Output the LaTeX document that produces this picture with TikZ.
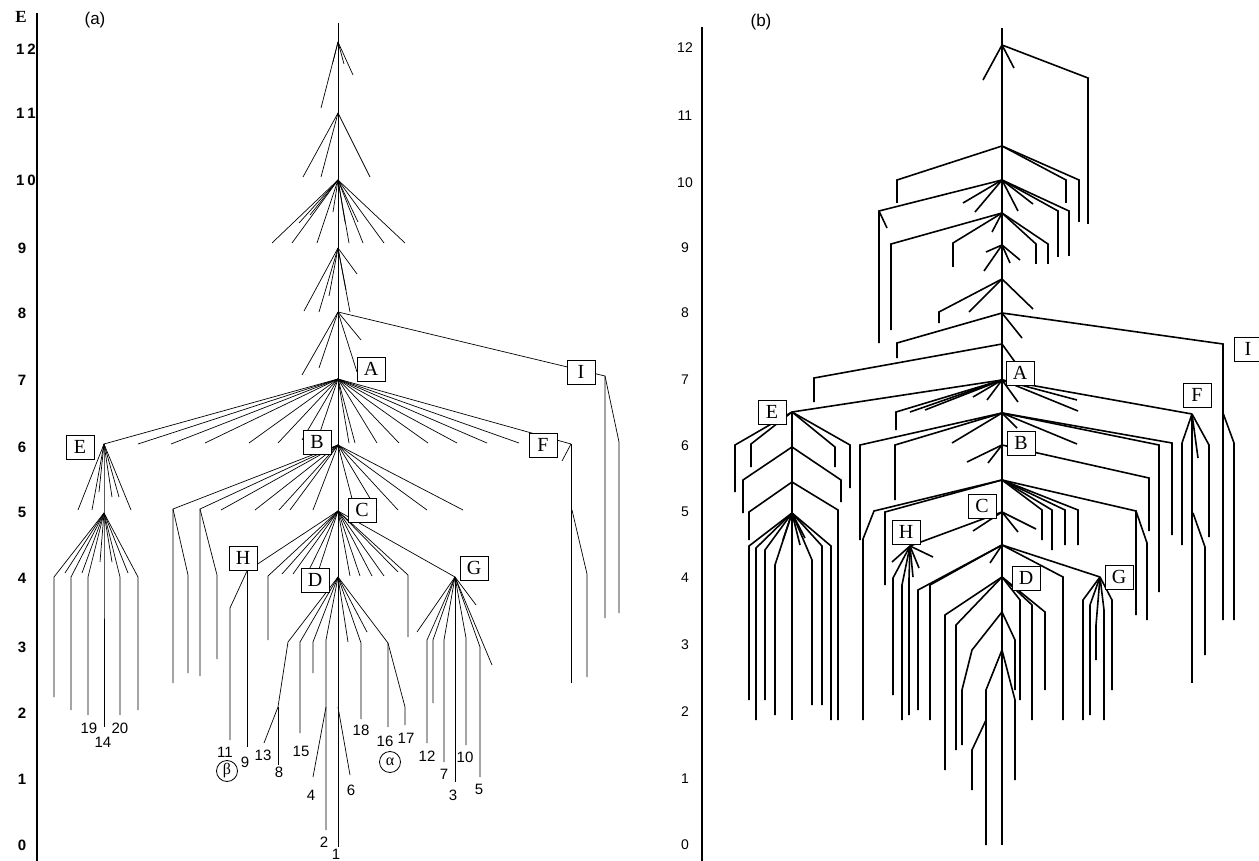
\documentclass[tikz,border=0pt]{standalone}
\usepackage{fontspec}
\setmainfont{Liberation Serif}
\newfontfamily\arial{Liberation Sans}
\begin{document}
\begin{tikzpicture}[x=1pt,y=-1pt,
  ta/.style={line width=0.7pt},
  tb/.style={line width=1.6pt},
  lbox/.style={draw, line width=1pt, fill=white, font=\fontsize{20}{20}\selectfont, minimum width=28pt, minimum height=24pt, inner sep=0pt},
  axa/.style={font=\arial\bfseries\fontsize{15}{15}\selectfont, inner sep=0pt},
  axb/.style={font=\arial\fontsize{14}{14}\selectfont, inner sep=0pt},
  leaf/.style={font=\arial\fontsize{15}{15}\selectfont, inner sep=0pt},
  circ/.style={draw, circle, line width=0.8pt, minimum size=21pt, inner sep=0pt, font=\fontsize{16}{16}\selectfont},
]
\useasboundingbox (0,0) rectangle (1259,861);

% ================= panel (a) =================
\coordinate (axaT) at (37,13);
\coordinate (axaB) at (37,861);
\draw[line width=1.3pt] (axaT) -- (axaB);
\node[font=\bfseries\fontsize{17}{17}\selectfont, inner sep=0pt] (Elab) at (21,17) {E};
\node[font=\arial\fontsize{17}{17}\selectfont, inner sep=0pt] (alab) at (95,20) {(a)};
\foreach \v/\yy in {0/845,1/779,2/713,3/647,4/578,5/512,6/447,7/380,8/313,9/248}
  \node[axa] (ya\v) at (22,\yy) {\v};
\node[axa] (ya10) at (26,180) {1\kern3pt 0};
\node[axa] (ya11) at (26,113) {1\kern3pt 1};
\node[axa] (ya12) at (26,49) {1\kern3pt 2};

\coordinate (atop) at (338,23);
\coordinate (abot) at (338,847);
\coordinate (a12) at (338,42);
\coordinate (a11) at (338,113);
\coordinate (a10) at (338,180);
\coordinate (a9) at (338,248);
\coordinate (a8) at (338,312);
\coordinate (aA) at (338,379);
\coordinate (aB) at (338,445);
\coordinate (aC) at (338,511);
\coordinate (aD) at (338,577);
\coordinate (aD2) at (338,707);
\coordinate (aI) at (605,376);
\coordinate (aF) at (571,444);
\coordinate (aF5) at (572,510);
\coordinate (aE) at (104,444);
\coordinate (aE5) at (104,513);
\coordinate (aH) at (247,571);
\coordinate (aG) at (455,577);

\draw[ta] (atop) -- (abot);
\foreach \p in {(321,108),(353,75),(344,64),(333,62)} \draw[ta] (a12) -- \p;
\foreach \p in {(303,177),(321,177),(370,177)} \draw[ta] (a11) -- \p;
\foreach \p in {(272,243),(292,243),(317,243),(349,243),(363,243),(384,243),(405,243),(299,223),(310,215),(333,212),(358,222),(345,222)} \draw[ta] (a10) -- \p;
\foreach \p in {(304,311),(319,312),(329,296),(350,312),(357,274),(346,290)} \draw[ta] (a9) -- \p;
\foreach \p in {(302,375),(319,368),(357,372),(361,340)} \draw[ta] (a8) -- \p;
\draw[ta] (a8) -- (aI) -- (605,618);
\draw[ta] (aI) -- (619,442) -- (619,613);

% A fan
\foreach \p in {(138,444),(171,444),(205,443),(249,443),(278,443),(302,440),(318,438),(349,443),(355,443),(377,443),(399,443),(428,443),(457,443),(487,443),(519,443)} \draw[ta] (aA) -- \p;
\draw[ta] (aA) -- (aE);
\draw[ta] (aA) -- (aF);
\draw[ta] (aF) -- (571,683);
\draw[ta] (aF) -- (562,461);
\draw[ta] (aF5) -- (587,574) -- (587,677);

% B fan
\foreach \p in {(221,510),(255,510),(279,510),(290,510),(313,510),(355,510),(377,510),(398,510),(427,510),(463,510)} \draw[ta] (aB) -- \p;
\draw[ta] (aB) -- (173,509) -- (173,683);
\draw[ta] (173,509) -- (188,575) -- (188,673);
\draw[ta] (aB) -- (200,509) -- (200,676);
\draw[ta] (200,509) -- (217,575) -- (217,659);

% C fan
\foreach \p in {(282,574),(293,574),(307,574),(318,572),(350,576),(360,576),(372,576),(384,576),(398,572)} \draw[ta] (aC) -- \p;
\draw[ta] (aC) -- (aH);
\draw[ta] (aH) -- (247,747);
\draw[ta] (aH) -- (230,608) -- (230,740);
\draw[ta] (aC) -- (268,576) -- (268,640);
\draw[ta] (aC) -- (408,575) -- (408,637);
\draw[ta] (aC) -- (aG);

% D fan
\draw[ta] (aD) -- (288,642) -- (278,707) -- (264,743);
\draw[ta] (278,707) -- (278,765);
\draw[ta] (aD) -- (300,642) -- (300,733);
\draw[ta] (aD) -- (313,642) -- (313,673);
\draw[ta] (aD) -- (326,640) -- (326,830);
\draw[ta] (326,707) -- (313,777);
\draw[ta] (aD2) -- (350,775);
\draw[ta] (aD) -- (348,642);
\draw[ta] (aD) -- (361,643) -- (361,719);
\draw[ta] (aD) -- (367,632);
\draw[ta] (aD) -- (388,643) -- (388,727);
\draw[ta] (388,643) -- (405,707) -- (405,725);

% G fan
\draw[ta] (aG) -- (417,632);
\draw[ta] (aG) -- (427,640) -- (427,743);
\draw[ta] (aG) -- (433,640) -- (433,703);
\draw[ta] (aG) -- (444,640) -- (444,762);
\draw[ta] (aG) -- (455,782);
\draw[ta] (aG) -- (466,638) -- (466,745);
\draw[ta] (aG) -- (480,647) -- (480,777);
\draw[ta] (aG) -- (492,665);
\draw[ta] (aG) -- (476,605);

% E fan
\foreach \p in {(78,510),(92,510),(99,492),(112,497),(119,497),(131,510)} \draw[ta] (aE) -- \p;
\draw[ta] (aE) -- (aE5) -- (104,727);
\foreach \p in {(65,573),(82,573),(100,562),(112,562),(128,573)} \draw[ta] (aE5) -- \p;
\draw[ta] (aE5) -- (54,577) -- (54,697);
\draw[ta] (aE5) -- (71,577) -- (71,710);
\draw[ta] (aE5) -- (88,577) -- (88,715);
\draw[ta] (aE5) -- (120,577) -- (120,715);
\draw[ta] (aE5) -- (138,577) -- (138,710);

% boxes (a)
\node[lbox] (bxaA) at (371,369) {A};
\node[lbox] (bxaB) at (317,442) {B};
\node[lbox] (bxaC) at (362,510) {C};
\node[lbox] (bxaD) at (315,580) {D};
\node[lbox] (bxaE) at (80,447) {E};
\node[lbox] (bxaF) at (543,445) {F};
\node[lbox] (bxaG) at (474,568) {G};
\node[lbox] (bxaH) at (243,558) {H};
\node[lbox] (bxaI) at (581,372) {I};

% leaf labels (a)
\foreach \t/\xx/\yy in {19/89/728,20/120/728,14/103/742,11/225/752,9/245/762,13/263/755,8/279/772,15/301/751,4/311/795,2/324/842,1/336/854,6/351/790,18/361/730,16/385/741,17/406/738,12/427/756,7/444/774,3/453/795,10/465/757,5/479/789}
  \node[leaf] (la\t) at (\xx,\yy) {\t};
\node[circ] (beta) at (227,771) {β};
\node[circ] (alpha) at (390,762) {α};

% ================= panel (b) =================
\coordinate (axbT) at (702,27);
\coordinate (axbB) at (702,861);
\draw[line width=1.1pt] (axbT) -- (axbB);
\node[font=\arial\fontsize{17}{17}\selectfont, inner sep=0pt] (blab) at (761,22) {(b)};
\foreach \v/\yy in {0/845,1/779,2/712,3/645,4/578,5/512,6/446,7/380,8/313,9/248,10/183,11/116,12/48}
  \node[axb] (yb\v) at (685,\yy) {\v};

\coordinate (btop) at (1002,28);
\coordinate (bbot) at (1002,845);
\coordinate (b12) at (1002,45);
\coordinate (b105) at (1002,146);
\coordinate (b10) at (1002,180);
\coordinate (b95) at (1002,213);
\coordinate (b9) at (1002,245);
\coordinate (b85) at (1002,279);
\coordinate (b8) at (1002,313);
\coordinate (b75) at (1002,344);
\coordinate (bA) at (1002,380);
\coordinate (b65) at (1002,413);
\coordinate (bB) at (1002,445);
\coordinate (b55) at (1002,480);
\coordinate (bC) at (1002,512);
\coordinate (b45) at (1002,545);
\coordinate (bD) at (1002,577);
\coordinate (bD2) at (1002,612);
\coordinate (bD3) at (1002,650);
\coordinate (bE) at (792,412);
\coordinate (bE2) at (792,447);
\coordinate (bE3) at (792,482);
\coordinate (bE4) at (792,513);
\coordinate (bF) at (1192,414);
\coordinate (bF5) at (1193,513);
\coordinate (bG) at (1100,577);
\coordinate (bH) at (910,546);
\coordinate (bI) at (1223,344);
\coordinate (bI2) at (1223,413);

\draw[tb] (btop) -- (bbot);
\foreach \p in {(983,80),(1014,68)} \draw[tb] (b12) -- \p;
\draw[tb] (b12) -- (1088,78) -- (1088,224);
\draw[tb] (b105) -- (897,180) -- (897,203);
\draw[tb] (b105) -- (1066,180) -- (1066,203);
\draw[tb] (b105) -- (1079,180) -- (1079,222);
\draw[tb] (b10) -- (879,211) -- (879,343);
\draw[tb] (879,211) -- (887,228);
\foreach \p in {(963,203),(975,212),(1018,211),(1033,204)} \draw[tb] (b10) -- \p;
\draw[tb] (b10) -- (1058,211) -- (1058,257);
\draw[tb] (b10) -- (1069,211) -- (1069,256);
\draw[tb] (b95) -- (891,244) -- (891,330);
\draw[tb] (b95) -- (953,243) -- (953,267);
\draw[tb] (b95) -- (992,232);
\draw[tb] (b95) -- (1036,244) -- (1036,264);
\draw[tb] (b95) -- (1048,244) -- (1048,264);
\foreach \p in {(986,252),(984,271),(1020,260),(1010,263)} \draw[tb] (b9) -- \p;
\foreach \p in {(969,312),(1033,309)} \draw[tb] (b85) -- \p;
\draw[tb] (b85) -- (939,312) -- (939,323);
\draw[tb] (b8) -- (bI) -- (1223,620);
\draw[tb] (bI2) -- (1234,443) -- (1234,620);
\draw[tb] (b8) -- (897,343) -- (897,358);
\draw[tb] (b8) -- (1022,338);
\draw[tb] (b75) -- (814,378) -- (814,402);
\draw[tb] (b75) -- (1015,362);
% A level
\draw[tb] (bA) -- (bE);
\draw[tb] (bA) -- (896,412) -- (896,430);
\foreach \p in {(910,412),(925,410),(973,397),(987,400),(1018,402),(1077,400),(1078,411)} \draw[tb] (bA) -- \p;
\draw[tb] (bA) -- (bF);
% 6.5 level
\draw[tb] (b65) -- (860,445) -- (860,540);
\draw[tb] (b65) -- (895,445) -- (895,500);
\foreach \p in {(952,443),(1017,428),(1077,444)} \draw[tb] (b65) -- \p;
\draw[tb] (b65) -- (1159,445) -- (1159,592);
\draw[tb] (b65) -- (1172,443) -- (1172,535);
% B level
\foreach \p in {(967,462),(988,463)} \draw[tb] (bB) -- \p;
\draw[tb] (bB) -- (1149,478) -- (1149,531);
% 5.5 level
\draw[tb] (b55) -- (874,511) -- (863,539) -- (863,720);
\draw[tb] (b55) -- (885,512) -- (885,585);
\draw[tb] (b55) -- (1042,510) -- (1042,540);
\draw[tb] (b55) -- (1052,510) -- (1052,550);
\draw[tb] (b55) -- (1065,510) -- (1065,545);
\draw[tb] (b55) -- (1078,510) -- (1078,545);
\draw[tb] (b55) -- (1136,511) -- (1136,615);
\draw[tb] (1136,511) -- (1147,543) -- (1147,620);
% C level
\draw[tb] (bC) -- (bH);
\foreach \p in {(973,531),(1018,532),(1036,529)} \draw[tb] (bC) -- \p;
% 4.5 level
\draw[tb] (b45) -- (1063,577) -- (1063,720);
\draw[tb] (b45) -- (bG);
\draw[tb] (b45) -- (990,563);
\draw[tb] (b45) -- (930,585) -- (930,720);
\draw[tb] (b45) -- (918,590) -- (918,710);
% D level
\draw[tb] (bD) -- (945,615) -- (945,770);
\draw[tb] (bD) -- (956,625) -- (956,750);
\draw[tb] (bD) -- (1020,600) -- (1020,700);
\draw[tb] (bD) -- (1032,605) -- (1032,720);
\draw[tb] (bD) -- (1045,612) -- (1045,690);
\draw[tb] (bD2) -- (972,650) -- (962,690) -- (962,745);
\draw[tb] (bD2) -- (1015,640) -- (1015,690);
\draw[tb] (bD3) -- (986,690) -- (986,845);
\draw[tb] (bD3) -- (1015,700) -- (1015,780);
\draw[tb] (986,720) -- (972,750) -- (972,790);
% F
\draw[tb] (bF) -- (1182,443) -- (1182,545);
\draw[tb] (bF) -- (1209,445) -- (1209,537);
\draw[tb] (bF) -- (1198,458);
\draw[tb] (bF) -- (1192,683);
\draw[tb] (bF5) -- (1205,547) -- (1205,655);
% G
\draw[tb] (bG) -- (1083,600) -- (1083,720);
\draw[tb] (bG) -- (1090,605) -- (1090,715);
\draw[tb] (bG) -- (1096,625) -- (1096,660);
\draw[tb] (bG) -- (1104,610) -- (1104,720);
\draw[tb] (bG) -- (1112,600) -- (1112,690);
% E
\draw[tb] (bE) -- (bE4) -- (792,720);
\draw[tb] (bE) -- (735,445) -- (735,492);
\draw[tb] (bE) -- (751,444) -- (751,467);
\draw[tb] (bE) -- (835,447) -- (835,467);
\draw[tb] (bE) -- (850,445) -- (850,488);
\draw[tb] (bE2) -- (743,480) -- (743,513);
\draw[tb] (bE2) -- (841,480) -- (841,502);
\draw[tb] (bE3) -- (749,512) -- (749,540);
\draw[tb] (bE3) -- (838,510) -- (838,720);
\draw[tb] (bE4) -- (749,546) -- (749,700);
\draw[tb] (bE4) -- (756,548) -- (756,720);
\draw[tb] (bE4) -- (765,550) -- (765,700);
\draw[tb] (bE4) -- (775,565) -- (775,715);
\draw[tb] (bE4) -- (783,540);
\draw[tb] (bE4) -- (800,545);
\draw[tb] (bE4) -- (805,538);
\draw[tb] (bE4) -- (812,560) -- (812,705);
\draw[tb] (bE4) -- (822,546) -- (822,705);
\draw[tb] (bE4) -- (831,546) -- (831,720);
% H
\foreach \p in {(892,562),(913,577),(919,568),(933,557)} \draw[tb] (bH) -- \p;
\draw[tb] (bH) -- (893,578) -- (893,695);
\draw[tb] (bH) -- (902,585) -- (902,720);
\draw[tb] (bH) -- (909,579) -- (909,715);

% boxes (b)
\node[lbox] (bxbA) at (1020,373) {A};
\node[lbox] (bxbB) at (1021,443) {B};
\node[lbox] (bxbC) at (982,506) {C};
\node[lbox] (bxbD) at (1026,578) {D};
\node[lbox] (bxbE) at (772,412) {E};
\node[lbox] (bxbF) at (1197,395) {F};
\node[lbox] (bxbG) at (1119,577) {G};
\node[lbox] (bxbH) at (906,532) {H};
\node[lbox] (bxbI) at (1248,349) {I};
\end{tikzpicture}
\end{document}
